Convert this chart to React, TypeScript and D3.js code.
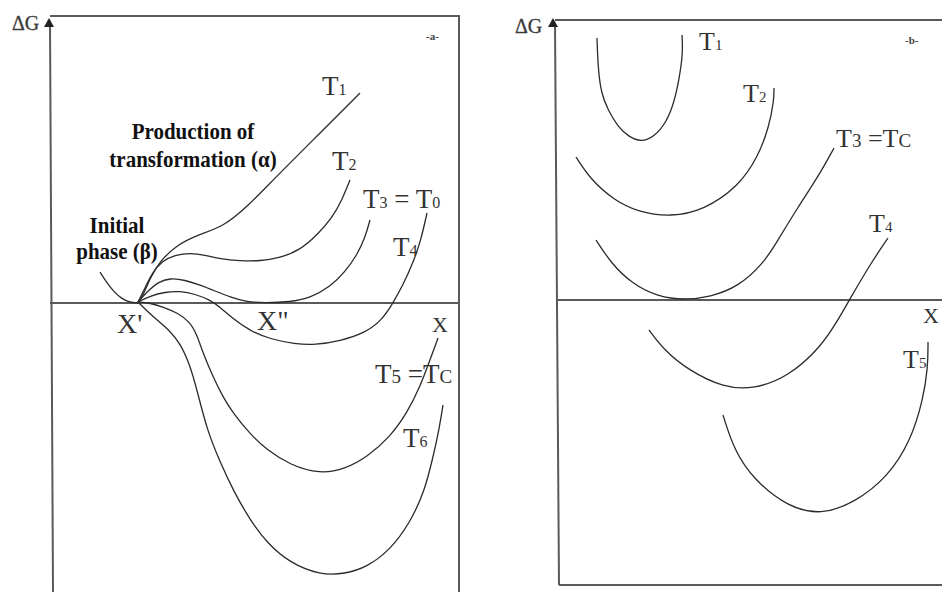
import React from "react";
import * as d3 from "d3";

// ---- Panel (a): free-energy curves, composition x vs ΔG ----
const aBeta: [number, number][] = [[5.0, 3.1], [5.7, 2.0], [6.4, 1.1], [7.2, 0.4], [8.0, 0.05], [8.8, 0.0]];
const aT1: [number, number][] = [[8.8, 0.1], [9.3, 0.7], [10.0, 2.5], [11.0, 4.2], [12.7, 5.8], [14.7, 6.8], [17.3, 7.6], [19.7, 9.6], [22.3, 12.3], [27.0, 17.0], [31.0, 21.0]];
const aT2: [number, number][] = [[8.8, 0.1], [9.4, 1.3], [10.2, 3.0], [11.2, 4.2], [12.5, 4.8], [14.0, 5.0], [15.5, 4.8], [17.0, 4.4], [19.0, 4.2], [21.0, 4.2], [23.0, 4.5], [25.0, 5.3], [26.7, 6.8], [28.2, 8.5], [29.2, 10.3], [30.0, 12.3]];
const aT3: [number, number][] = [[8.8, 0.1], [9.8, 1.2], [10.8, 2.1], [12.0, 2.5], [13.5, 2.3], [15.0, 1.8], [16.5, 1.2], [18.0, 0.6], [19.7, 0.1], [21.5, 0], [24.0, 0.1], [26.0, 0.5], [28.0, 1.6], [29.5, 3.1], [30.7, 4.8], [31.5, 6.5], [32.0, 8.3]];
const aT4: [number, number][] = [[8.8, 0.1], [10.0, 0.7], [11.5, 1.1], [13.0, 1.2], [14.5, 0.9], [16.0, 0.3], [17.0, -0.4], [18.2, -1.5], [20.0, -2.8], [22.0, -3.6], [24.5, -4.1], [26.5, -4.2], [29.0, -3.8], [31.5, -3.0], [33.2, -1.7], [34.3, 0], [35.3, 1.8], [36.3, 4.0], [37.1, 6.3], [37.7, 9.0]];
const aT5: [number, number][] = [[8.8, 0.1], [10.0, 0], [11.3, -0.4], [12.8, -1.0], [14.0, -1.9], [14.7, -3.2], [15.3, -5.0], [16.3, -7.4], [17.3, -9.4], [18.3, -11.0], [20.0, -13.1], [21.7, -14.7], [24.0, -16.2], [27.0, -17.1], [29.5, -16.6], [31.7, -15.4], [34.0, -13.4], [35.7, -11.0], [37.0, -8.4], [38.0, -5.7], [38.8, -3.5]];
const aT6: [number, number][] = [[8.8, 0.1], [9.7, -0.8], [10.7, -1.7], [12.0, -2.8], [13.0, -4.0], [14.0, -6.2], [14.7, -8.7], [15.7, -12.7], [17.0, -15.9], [18.3, -18.7], [20.0, -21.7], [21.7, -24.0], [24.0, -26.0], [27.0, -27.2], [29.5, -27.1], [31.7, -26.4], [34.0, -24.7], [36.0, -22.0], [37.5, -18.7], [38.3, -15.4], [38.9, -12.7], [39.3, -10.2]];

// ---- Panel (b): single-minimum curves ----
const bT1: [number, number][] = [[4.2, 26.2], [4.3, 23.3], [4.6, 20.7], [5.3, 19.0], [6.3, 17.3], [7.4, 16.3], [8.6, 15.8], [9.9, 16.3], [11.1, 17.7], [11.9, 19.7], [12.4, 22.0], [12.8, 24.7], [12.7, 26.5]];
const bT2: [number, number][] = [[2.1, 14.3], [3.6, 12.0], [5.9, 10.0], [8.3, 8.8], [11.6, 8.3], [14.9, 9.0], [18.3, 11.3], [20.3, 14.3], [21.4, 17.3], [21.9, 20.0], [21.9, 21.2]];
const bT3: [number, number][] = [[4.1, 6.0], [5.6, 3.7], [7.6, 1.7], [10.3, 0.3], [13.0, 0], [15.5, 0.3], [18.3, 1.3], [20.9, 3.7], [22.3, 6.0], [24.3, 9.3], [26.3, 12.3], [27.9, 15.2]];
const bT4: [number, number][] = [[9.4, -3.0], [10.9, -5.0], [13.3, -7.0], [16.9, -8.8], [19.9, -8.9], [23.3, -7.7], [26.6, -4.7], [28.3, -2.0], [29.6, 0.3], [31.6, 3.7], [33.3, 6.2]];
const bT5: [number, number][] = [[16.8, -11.5], [17.9, -15.0], [19.9, -18.0], [23.3, -20.7], [26.6, -21.5], [29.9, -20.3], [33.3, -17.7], [35.6, -14.0], [36.8, -10.0], [37.3, -6.7], [37.3, -4.2]];

// Curve labels: main letter plus subscript pieces
type Piece = { t: string; sub?: boolean };
const T = (n: string): Piece[] => [{ t: "T" }, { t: n, sub: true }];

const SERIF = "'Liberation Serif', 'DejaVu Serif', serif";
const INK = "#2b2b2b";
const FRAME = "#5a5a5a";

function Label({ x, y, pieces, size = 27, subSize = 16 }: { x: number; y: number; pieces: Piece[]; size?: number; subSize?: number }) {
  return (
    <text x={x} y={y} fontFamily={SERIF} fill="#333" fontSize={size}>
      {pieces.map((p, i) => (
        <tspan key={i} fontSize={p.sub ? subSize : size}>{p.t}</tspan>
      ))}
    </text>
  );
}

// Bold annotation, slightly tall
function Note({ x, y, children }: { x: number; y: number; children: React.ReactNode }) {
  return (
    <text transform={`translate(${x},${y}) scale(1,1.12)`} fontFamily={SERIF} fontWeight="bold" fontSize={21} fill="#111" textAnchor="middle">
      {children}
    </text>
  );
}

export default function App() {
  // panel (a) scales
  const ax = d3.scaleLinear().domain([0, 41]).range([50, 460]);
  const ay = d3.scaleLinear().domain([-28.9, 28.7]).range([592, 16]);
  // panel (b) scales
  const bx = d3.scaleLinear().domain([0, 38.7]).range([555, 942]);
  const by = d3.scaleLinear().domain([-28.5, 28]).range([585, 20]);

  const lineA = d3.line<[number, number]>().x(d => ax(d[0])).y(d => ay(d[1])).curve(d3.curveBasis);
  const lineB = d3.line<[number, number]>().x(d => bx(d[0])).y(d => by(d[1])).curve(d3.curveBasis);

  const aCurves = [aBeta, aT1, aT2, aT3, aT4, aT5, aT6];
  const bCurves = [bT1, bT2, bT3, bT4, bT5];

  const arrow = (cx: number, top: number) => `M${cx},${top} L${cx - 5},${top + 9} L${cx + 5},${top + 9} Z`;

  return (
    <svg width={942} height={592} style={{ position: "absolute", left: 0, top: 0, background: "#fff" }}>
      <rect width={942} height={592} fill="#fff" />

      {/* ---------- panel (a) frame ---------- */}
      <g stroke={FRAME} strokeWidth={2} fill="none">
        <line x1={ax(0)} y1={ay(28.7)} x2={ax(41)} y2={ay(28.7)} />
        <line x1={ax(0)} y1={ay(28.2)} x2={ax(0.3)} y2={ay(-28.9)} />
        <line x1={ax(40.9)} y1={ay(28.7)} x2={ax(40.9)} y2={ay(-28.9)} />
        <line x1={ax(0)} y1={ay(0)} x2={ax(41)} y2={ay(0)} />
      </g>
      <path d={arrow(ax(0) - 1, 18)} fill="#222" />
      <text x={12} y={30} fontFamily={SERIF} fontSize={20} fill="#3a3a3a" stroke="#3a3a3a" strokeWidth={0.3}>ΔG</text>
      <text x={426} y={40} fontFamily={SERIF} fontSize={11} fontWeight="bold" fill="#444">-a-</text>

      <g fill="none" stroke={INK} strokeWidth={1.3}>
        {aCurves.map((c, i) => <path key={i} d={lineA(c) ?? ""} />)}
      </g>

      <Note x={193} y={139}>Production of</Note>
      <Note x={193} y={167}>transformation (α)</Note>
      <Note x={117} y={233}>Initial</Note>
      <Note x={117} y={259}>phase (β)</Note>

      <Label x={322} y={95} pieces={T("1")} />
      <Label x={332} y={170} pieces={T("2")} />
      <Label x={363} y={208} pieces={[...T("3"), { t: " = T" }, { t: "0", sub: true }]} />
      <Label x={393} y={256} pieces={T("4")} />
      <Label x={375} y={383} pieces={[...T("5"), { t: " =T" }, { t: "C", sub: true }]} subSize={19} />
      <Label x={403} y={447} pieces={T("6")} />
      <Label x={117} y={333} pieces={[{ t: "X'" }]} size={28} />
      <Label x={257} y={330} pieces={[{ t: "X\"" }]} size={28} />
      <Label x={432} y={332} pieces={[{ t: "X" }]} size={22} />

      {/* ---------- panel (b) frame ---------- */}
      <g stroke={FRAME} strokeWidth={2} fill="none">
        <line x1={bx(0)} y1={by(28)} x2={bx(38.7)} y2={by(28)} />
        <line x1={bx(0)} y1={by(27.6)} x2={bx(0.4)} y2={by(-28.5)} />
        <line x1={bx(0.3)} y1={by(0)} x2={bx(38.7)} y2={by(0)} />
        <line x1={bx(0.4)} y1={by(-28.5)} x2={bx(38.7)} y2={by(-28.5)} />
      </g>
      <path d={arrow(bx(0) - 2, 18)} fill="#222" />
      <text x={515} y={33} fontFamily={SERIF} fontSize={20} fill="#3a3a3a" stroke="#3a3a3a" strokeWidth={0.3}>ΔG</text>
      <text x={905} y={44} fontFamily={SERIF} fontSize={11} fontWeight="bold" fill="#444">-b-</text>

      <g fill="none" stroke={INK} strokeWidth={1.3}>
        {bCurves.map((c, i) => <path key={i} d={lineB(c) ?? ""} />)}
      </g>

      <Label x={699} y={50} pieces={T("1")} size={26} subSize={15} />
      <Label x={743} y={102} pieces={T("2")} size={26} subSize={15} />
      <Label x={836} y={147} pieces={[...T("3"), { t: " =T" }, { t: "C", sub: true }]} size={26} subSize={19} />
      <Label x={869} y={232} pieces={T("4")} size={26} subSize={15} />
      <Label x={903} y={368} pieces={T("5")} size={26} subSize={15} />
      <Label x={923} y={323} pieces={[{ t: "X" }]} size={22} />
    </svg>
  );
}
